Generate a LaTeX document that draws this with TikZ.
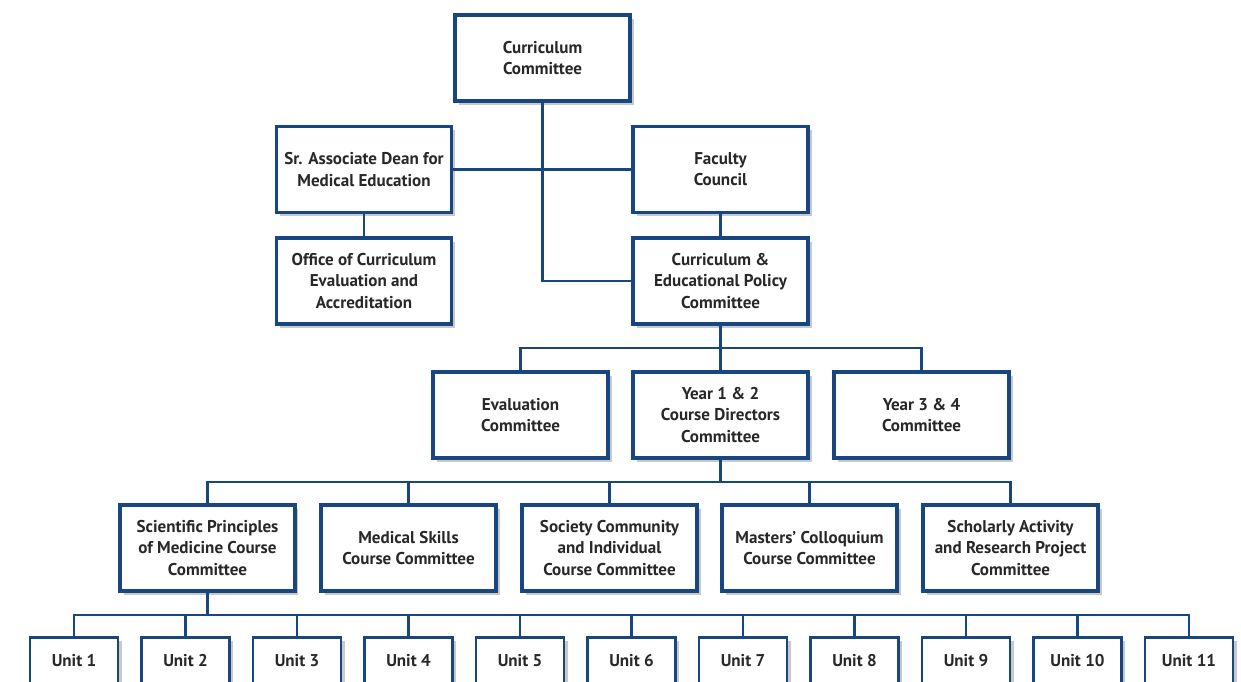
\documentclass[tikz,border=0pt]{standalone}
\usepackage{fontspec}
\setmainfont{PT Sans}
\usetikzlibrary{positioning,shadows,calc}
\definecolor{navy}{RGB}{24,70,128}
\definecolor{txt}{RGB}{40,40,40}

\tikzset{
  box/.style={rectangle, draw=navy, line width=1.8pt, fill=white, align=center,
    minimum width=3.5cm, minimum height=1.72cm, inner sep=1pt, text=txt,
    font=\bfseries\fontsize{9.7}{12}\selectfont,
    drop shadow={shadow xshift=2pt, shadow yshift=-2pt, opacity=0.3, fill=black!70}},
  unitbox/.style={box, line width=1.2pt, minimum width=1.76cm, minimum height=0.94cm},
  link/.style={draw=navy, line width=1.4pt}
}

\begin{document}
\begin{tikzpicture}[x=0.02cm, y=-0.02cm]
\useasboundingbox (0,0) rectangle (1241,681);

% top
\node[box] (cc) at (542.5,58) {Curriculum\\Committee};
\node[box] (dean) at (364,169.5) {Sr. Associate Dean for\\Medical Education};
\node[box] (fac) at (720.5,169.5) {Faculty\\Council};
\node[box] (office) at (364,281) {Office of Curriculum\\Evaluation and\\Accreditation};
\node[box] (cepc) at (720.5,281) {Curriculum \&\\Educational Policy\\Committee};

\draw[link] (cc.south) |- (cepc.west);
\draw[link] (dean.east) -- (fac.west);
\draw[link] (dean) -- (office);
\draw[link] (fac) -- (cepc);

% committees
\node[box] (eval) at (520.5,415) {Evaluation\\Committee};
\node[box] (y12) at (720.5,415) {Year 1 \& 2\\Course Directors\\Committee};
\node[box] (y34) at (921.5,415) {Year 3 \& 4\\Committee};

\coordinate (bus1) at (720.5,348);
\draw[link] (cepc.south) -- (y12.north);
\draw[link] (eval.north) |- (bus1) -| (y34.north);

% course committees
\node[box] (spm) at (207.5,548) {Scientific Principles\\of Medicine Course\\Committee};
\node[box] (msk) at (408.5,548) {Medical Skills\\Course Committee};
\node[box] (sci) at (609.5,548) {Society Community\\and Individual\\Course Committee};
\node[box] (mcc) at (809.5,548) {Masters' Colloquium\\Course Committee};
\node[box] (sar) at (1010.5,548) {Scholarly Activity\\and Research Project\\Committee};

\coordinate (bus2) at (720.5,482);
\draw[link] (y12.south) -- (bus2);
\draw[link] (spm.north) |- (bus2) -| (sar.north);
\foreach \n in {msk,sci,mcc}
  \draw[link] (\n.north) -- (\n.north |- bus2);

% units
\foreach \i in {1,...,11}
  \node[unitbox] (u\i) at ({74+111.5*(\i-1)},661) {Unit \i};

\coordinate (bus3) at (207.5,615);
\draw[link] (spm.south) -- (bus3);
\draw[link] (u1.north) |- (bus3) -| (u11.north);
\foreach \i in {2,...,10}
  \draw[link] (u\i.north) -- (u\i.north |- bus3);
\end{tikzpicture}
\end{document}
